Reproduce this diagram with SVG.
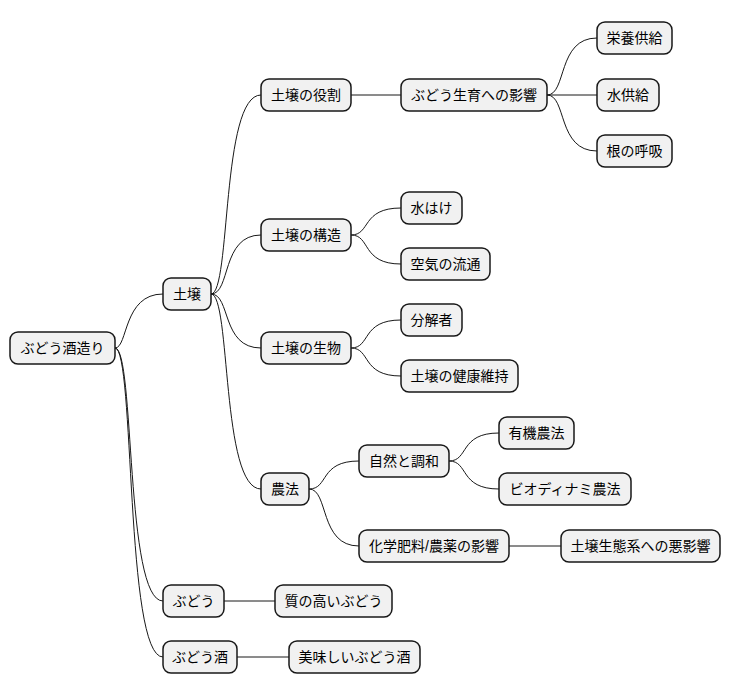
<svg xmlns="http://www.w3.org/2000/svg" width="731" height="696" viewBox="0 0 731 696">
<style>
.n rect{fill:#F1F1F1;stroke:#181818;stroke-width:1.5}
.n text{font-family:"Liberation Sans","Noto Sans CJK JP",sans-serif;font-size:14px;fill:#000;text-anchor:middle;dominant-baseline:central}
#c path{fill:none;stroke:#181818;stroke-width:1}
</style>
<rect width="731" height="696" fill="#fff"/>
<g id="c">
<path d="M115 348 C128 348 123 294 163 294"/>
<path d="M115 348 C135 348 125 601 163 601"/>
<path d="M115 348 C135 348 125 657 163 657"/>
<path d="M211 294 C231 294 221 95 261 95"/>
<path d="M211 294 C231 294 221 235 261 235"/>
<path d="M211 294 C231 294 221 348 261 348"/>
<path d="M211 294 C231 294 221 489 261 489"/>
<path d="M351 95 L401 95"/>
<path d="M547 95 C567 95 557 38 597 38"/>
<path d="M547 95 L597 95"/>
<path d="M547 95 C567 95 557 151 597 151"/>
<path d="M351 235 C371 235 361 208 401 208"/>
<path d="M351 235 C371 235 361 264 401 264"/>
<path d="M351 348 C371 348 361 320 401 320"/>
<path d="M351 348 C371 348 361 376 401 376"/>
<path d="M309 489 C329 489 319 461 359 461"/>
<path d="M309 489 C329 489 319 546 359 546"/>
<path d="M449 461 C469 461 459 433 499 433"/>
<path d="M449 461 C469 461 459 489 499 489"/>
<path d="M509 546 L561 546"/>
<path d="M224 601 L275 601"/>
<path d="M237 657 L289 657"/>
</g>
<g id="n0" class="n"><rect x="10" y="332" width="105" height="32" rx="8"/><text x="62.5" y="348">ぶどう酒造り</text></g>
<g id="n1" class="n"><rect x="163" y="278" width="48" height="32" rx="8"/><text x="187" y="294">土壌</text></g>
<g id="n2" class="n"><rect x="163" y="585" width="61" height="32" rx="8"/><text x="193.5" y="601">ぶどう</text></g>
<g id="n3" class="n"><rect x="163" y="641" width="74" height="32" rx="8"/><text x="200" y="657">ぶどう酒</text></g>
<g id="n4" class="n"><rect x="261" y="79" width="90" height="32" rx="8"/><text x="306" y="95">土壌の役割</text></g>
<g id="n5" class="n"><rect x="261" y="219" width="90" height="32" rx="8"/><text x="306" y="235">土壌の構造</text></g>
<g id="n6" class="n"><rect x="261" y="332" width="90" height="32" rx="8"/><text x="306" y="348">土壌の生物</text></g>
<g id="n7" class="n"><rect x="261" y="473" width="48" height="32" rx="8"/><text x="285" y="489">農法</text></g>
<g id="n8" class="n"><rect x="401" y="79" width="146" height="32" rx="8"/><text x="474" y="95">ぶどう生育への影響</text></g>
<g id="n9" class="n"><rect x="597" y="22" width="75" height="32" rx="8"/><text x="634.5" y="38">栄養供給</text></g>
<g id="n10" class="n"><rect x="597" y="79" width="62" height="32" rx="8"/><text x="628" y="95">水供給</text></g>
<g id="n11" class="n"><rect x="597" y="135" width="75" height="32" rx="8"/><text x="634.5" y="151">根の呼吸</text></g>
<g id="n12" class="n"><rect x="401" y="192" width="61" height="32" rx="8"/><text x="431.5" y="208">水はけ</text></g>
<g id="n13" class="n"><rect x="401" y="248" width="89" height="32" rx="8"/><text x="445.5" y="264">空気の流通</text></g>
<g id="n14" class="n"><rect x="401" y="304" width="61" height="32" rx="8"/><text x="431.5" y="320">分解者</text></g>
<g id="n15" class="n"><rect x="401" y="360" width="117" height="32" rx="8"/><text x="459.5" y="376">土壌の健康維持</text></g>
<g id="n16" class="n"><rect x="359" y="445" width="90" height="32" rx="8"/><text x="404" y="461">自然と調和</text></g>
<g id="n17" class="n"><rect x="359" y="530" width="150" height="32" rx="8"/><text x="434" y="546">化学肥料/農薬の影響</text></g>
<g id="n18" class="n"><rect x="499" y="417" width="75" height="32" rx="8"/><text x="536.5" y="433">有機農法</text></g>
<g id="n19" class="n"><rect x="499" y="473" width="132" height="32" rx="8"/><text x="565" y="489">ビオディナミ農法</text></g>
<g id="n20" class="n"><rect x="561" y="530" width="159" height="32" rx="8"/><text x="640.5" y="546">土壌生態系への悪影響</text></g>
<g id="n21" class="n"><rect x="275" y="585" width="117" height="32" rx="8"/><text x="333.5" y="601">質の高いぶどう</text></g>
<g id="n22" class="n"><rect x="289" y="641" width="131" height="32" rx="8"/><text x="354.5" y="657">美味しいぶどう酒</text></g>
</svg>
